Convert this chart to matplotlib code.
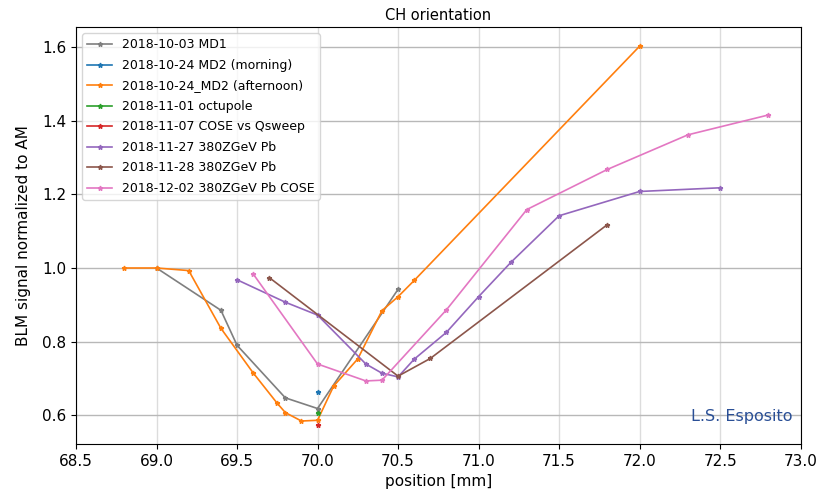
import matplotlib.pyplot as plt

# BLM signal (normalized to AM) vs. crystal position, one series per session
md1_x = [69.0, 69.4, 69.5, 69.8, 70.0, 70.5]
md1_y = [1.0, 0.885, 0.79, 0.647, 0.618, 0.942]

md2_morning_x = [70.0]
md2_morning_y = [0.662]

md2_afternoon_x = [68.8, 69.0, 69.2, 69.4, 69.6, 69.75, 69.8, 69.9, 70.0, 70.1, 70.25, 70.4, 70.5, 70.6, 72.0]
md2_afternoon_y = [1.0, 1.0, 0.993, 0.836, 0.715, 0.632, 0.607, 0.584, 0.586, 0.679, 0.753, 0.884, 0.922, 0.966, 1.603]

octupole_x = [70.0]
octupole_y = [0.605]

cose_qsweep_x = [70.0]
cose_qsweep_y = [0.573]

pb_1127_x = [69.5, 69.8, 70.0, 70.3, 70.4, 70.5, 70.6, 70.8, 71.0, 71.2, 71.5, 72.0, 72.5]
pb_1127_y = [0.968, 0.907, 0.872, 0.739, 0.714, 0.704, 0.752, 0.825, 0.922, 1.015, 1.142, 1.208, 1.218]

pb_1128_x = [69.7, 70.5, 70.7, 71.8]
pb_1128_y = [0.974, 0.706, 0.754, 1.118]

pb_cose_x = [69.6, 70.0, 70.3, 70.4, 70.8, 71.3, 71.8, 72.3, 72.8]
pb_cose_y = [0.984, 0.739, 0.693, 0.695, 0.886, 1.159, 1.268, 1.362, 1.416]

series = [
    ("2018-10-03 MD1", md1_x, md1_y, "tab:gray"),
    ("2018-10-24 MD2 (morning)", md2_morning_x, md2_morning_y, "tab:blue"),
    ("2018-10-24_MD2 (afternoon)", md2_afternoon_x, md2_afternoon_y, "tab:orange"),
    ("2018-11-01 octupole", octupole_x, octupole_y, "tab:green"),
    ("2018-11-07 COSE vs Qsweep", cose_qsweep_x, cose_qsweep_y, "tab:red"),
    ("2018-11-27 380ZGeV Pb", pb_1127_x, pb_1127_y, "tab:purple"),
    ("2018-11-28 380ZGeV Pb", pb_1128_x, pb_1128_y, "tab:brown"),
    ("2018-12-02 380ZGeV Pb COSE", pb_cose_x, pb_cose_y, "tab:pink"),
]

fig = plt.figure(figsize=(8.17, 4.95), dpi=100)
ax = fig.add_axes([0.093, 0.103, 0.887, 0.842])

for label, x, y, color in series:
    ax.plot(x, y, marker="*", markersize=3.5, linewidth=1.2, color=color, label=label)

ax.set_xlim(68.5, 73.0)
ax.set_xticks([68.5, 69.0, 69.5, 70.0, 70.5, 71.0, 71.5, 72.0, 72.5, 73.0])
ax.set_yticks([0.6, 0.8, 1.0, 1.2, 1.4, 1.6])
ax.tick_params(labelsize=11)

ax.grid(axis="y", color="#b8b8b8", linewidth=1.0)
ax.grid(axis="x", color="#dcdcdc", linewidth=1.0)
ax.set_axisbelow(True)

ax.set_title("CH orientation", fontsize=10.5, pad=5)
ax.set_xlabel("position [mm]", fontsize=11, labelpad=4)
ax.set_ylabel("BLM signal normalized to AM", fontsize=11, labelpad=8)

ax.legend(loc="upper left", fontsize=9, handlelength=2, borderaxespad=0.5,
          labelspacing=0.6)

ax.text(0.989, 0.067, "L.S. Esposito", transform=ax.transAxes, ha="right",
        va="center", fontsize=11.5, color="#2a4f96")

fig.savefig("out.png", dpi=100)
